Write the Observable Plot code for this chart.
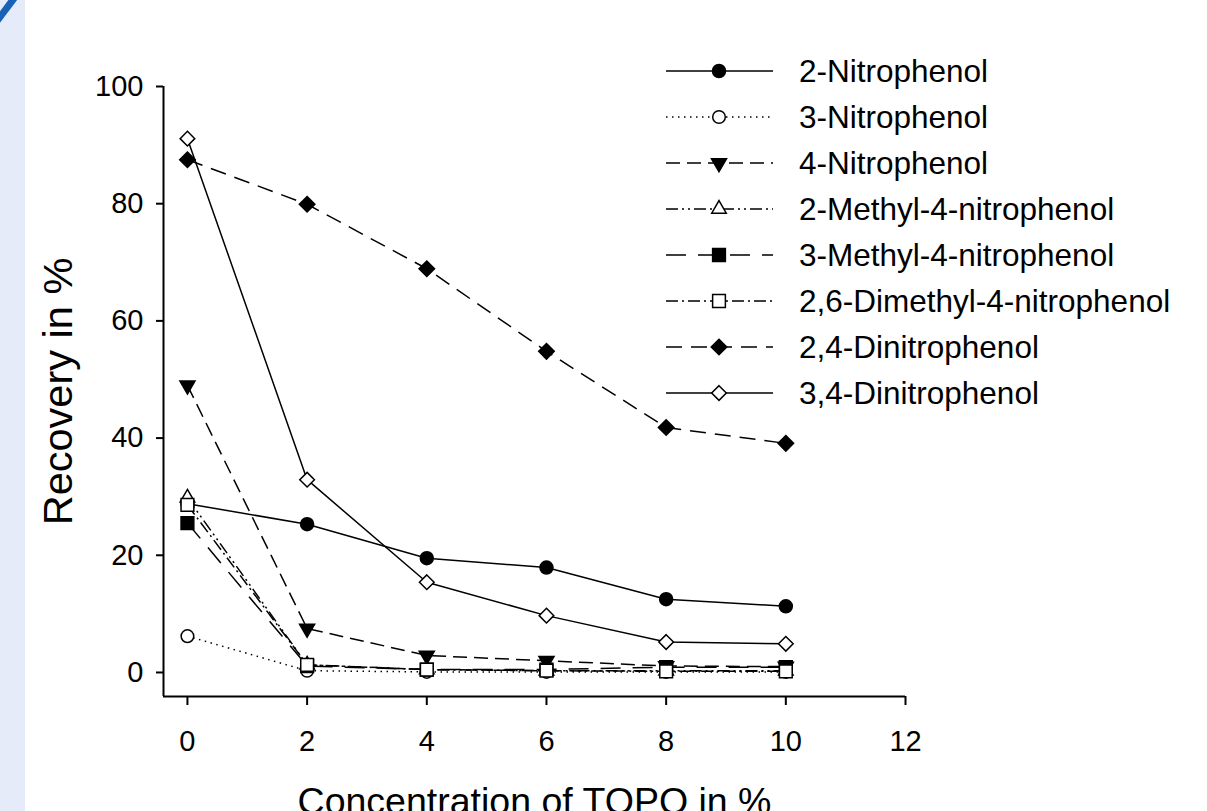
<!DOCTYPE html>
<html>
<head>
<meta charset="utf-8">
<script src="https://cdn.jsdelivr.net/npm/d3@7"></script>
<script src="https://cdn.jsdelivr.net/npm/@observablehq/plot@0.6"></script>
<style>
  html, body { margin: 0; padding: 0; background: #ffffff; }
  #wrap { position: relative; width: 1207px; height: 811px; overflow: hidden; background: #ffffff; }
  #band { position: absolute; left: 0; top: 0; width: 25px; height: 811px; background: #e5ebf8; }
  #deco { position: absolute; left: 0; top: 0; }
  #legend { position: absolute; left: 0; top: 0; pointer-events: none; }
</style>
</head>
<body>
<div id="wrap">
  <div id="chart"></div>
  <div id="band"></div>
  <svg id="deco" width="25" height="60"><line x1="-3" y1="21" x2="15" y2="-3" stroke="#1762b8" stroke-width="7"/></svg>
  <svg id="legend" width="1207" height="811"></svg>
</div>
<script>
// ---- data ----
const conc = [0, 2, 4, 6, 8, 10];
const seriesNames = [
  "2-Nitrophenol", "3-Nitrophenol", "4-Nitrophenol", "2-Methyl-4-nitrophenol",
  "3-Methyl-4-nitrophenol", "2,6-Dimethyl-4-nitrophenol", "2,4-Dinitrophenol", "3,4-Dinitrophenol"
];
const nitrophenol2   = [28.8, 25.3, 19.5, 17.9, 12.5, 11.3];
const nitrophenol3   = [6.2, 0.3, 0.1, 0.1, 0.1, 0.1];
const nitrophenol4   = [49.0, 7.5, 2.9, 2.0, 1.1, 1.0];
const methyl2nitro4  = [29.8, 1.3, 0.5, 0.3, 0.3, 0.3];
const methyl3nitro4  = [25.5, 1.1, 0.5, 0.5, 0.9, 0.9];
const dimethyl26     = [28.6, 1.3, 0.5, 0.3, 0.2, 0.2];
const dinitro24      = [87.5, 79.9, 68.9, 54.8, 41.8, 39.1];
const dinitro34      = [91.1, 32.9, 15.4, 9.7, 5.2, 4.9];
const xTicks = [0, 2, 4, 6, 8, 10, 12];
const yTicks = [0, 20, 40, 60, 80, 100];
const xLabel = "Concentration of TOPO in %";
const yLabel = "Recovery in %";

// ---- styles ----
const triangleDown = {
  draw(context, size) {
    const y = -Math.sqrt(size / (Math.sqrt(3) * 3));
    context.moveTo(0, -y * 2);
    context.lineTo(-Math.sqrt(3) * y, y);
    context.lineTo(Math.sqrt(3) * y, y);
    context.closePath();
  }
};
const values = [nitrophenol2, nitrophenol3, nitrophenol4, methyl2nitro4, methyl3nitro4, dimethyl26, dinitro24, dinitro34];
const symbols = [d3.symbolCircle, d3.symbolCircle, triangleDown, d3.symbolTriangle, d3.symbolSquare, d3.symbolSquare, d3.symbolDiamond2, d3.symbolDiamond2];
const fills = ["black", "white", "black", "white", "black", "white", "black", "white"];
const radii = [6.5, 6.3, 5.6, 5.4, 7.2, 7.2, 7.0, 6.6];
const dashes = [null, "1.5,4.5", "14,7", "12,4,2,4,2,4", "20,12", "12,4,2,4", "16,9", null];

const W = 1207, H = 811;
const margins = {left: 163, right: 302, top: 86, bottom: 115};
const font = "'Liberation Sans', Arial, Helvetica, sans-serif";

const marks = [];
marks.push(Plot.ruleX([-0.4], {stroke: "black", strokeWidth: 2}));
marks.push(Plot.ruleY([-4.1], {stroke: "black", strokeWidth: 2}));
marks.push(Plot.axisX(xTicks, {tickSize: 9, tickPadding: 25, strokeWidth: 2, fontSize: 29, label: null, fill: "black"}));
marks.push(Plot.axisY(yTicks, {tickSize: 7, tickPadding: 13, strokeWidth: 2, fontSize: 29, label: null, fill: "black"}));
seriesNames.forEach((name, k) => {
  const data = conc.map((c, i) => ({x: c, y: values[k][i]}));
  const lineOpts = {x: "x", y: "y", stroke: "black", strokeWidth: 1.5, strokeLinecap: "butt", strokeLinejoin: "miter"};
  if (dashes[k]) lineOpts.strokeDasharray = dashes[k];
  marks.push(Plot.line(data, lineOpts));
  marks.push(Plot.dot(data, {x: "x", y: "y", symbol: symbols[k], r: radii[k], fill: fills[k], stroke: "black", strokeWidth: 1.5}));
});
marks.push(Plot.text([xLabel], {frameAnchor: "bottom", dy: 91, lineAnchor: "top", fontSize: 37.5, fill: "black"}));
marks.push(Plot.text([yLabel], {frameAnchor: "left", dx: -105, rotate: -90, lineAnchor: "middle", textAnchor: "middle", fontSize: 41.5, fill: "black"}));

const chart = Plot.plot({
  width: W, height: H,
  marginLeft: margins.left, marginRight: margins.right, marginTop: margins.top, marginBottom: margins.bottom,
  x: {domain: [-0.4, 12]},
  y: {domain: [-4.1, 100]},
  style: {fontFamily: font, background: "transparent", color: "black", overflow: "hidden"},
  marks
});
document.getElementById("chart").appendChild(chart);

// ---- legend ----
const lg = d3.select("#legend");
const legendX0 = 666, legendX1 = 773, legendMark = 719, legendText = 799, legendTop = 71, legendStep = 46;
seriesNames.forEach((name, k) => {
  const g = lg.append("g").attr("transform", `translate(0,${legendTop + legendStep * k})`);
  const ln = g.append("line").attr("x1", legendX0).attr("x2", legendX1).attr("y1", 0).attr("y2", 0)
    .attr("stroke", "black").attr("stroke-width", 1.5);
  if (dashes[k]) ln.attr("stroke-dasharray", dashes[k]);
  g.append("path").attr("transform", `translate(${legendMark},0)`)
    .attr("d", d3.symbol(symbols[k], Math.PI * radii[k] * radii[k])())
    .attr("fill", fills[k]).attr("stroke", "black").attr("stroke-width", 1.5);
  g.append("text").attr("x", legendText).attr("y", 0).attr("dy", "0.35em")
    .attr("font-family", font).attr("font-size", 31.5).attr("fill", "black").text(name);
});
</script>
</body>
</html>
